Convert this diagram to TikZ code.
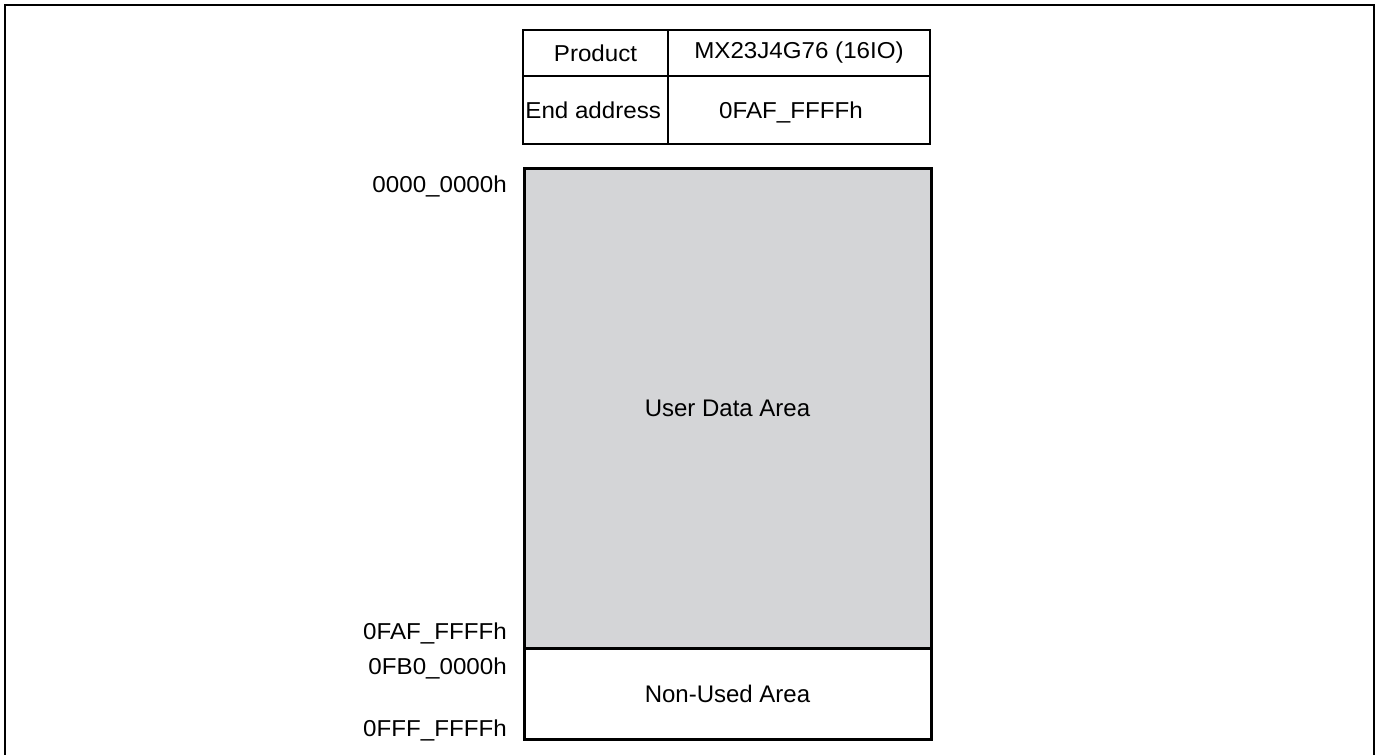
\documentclass[tikz,border=0pt]{standalone}
\usepackage{fontspec}
\setmainfont{Liberation Sans}
\definecolor{areagray}{RGB}{212,213,215}
\newcommand{\widetxt}[1]{\scalebox{1.05}[1]{#1}}
\begin{document}
\begin{tikzpicture}[x=1pt,y=-1pt,
  lbl/.style={font=\fontsize{23}{26}\selectfont, inner sep=0pt},
  cell/.style={draw, line width=1.6pt, minimum height=46pt, inner sep=0pt, font=\fontsize{23}{26}\selectfont},
  area/.style={draw, line width=3pt, inner sep=0pt, outer sep=0pt, font=\fontsize{24}{28}\selectfont}]
\useasboundingbox (0,0) rectangle (1382,755);
% outer frame
\coordinate (fbl) at (5,756);
\coordinate (ftl) at (5,5);
\coordinate (ftr) at (1374,5);
\coordinate (fbr) at (1374,756);
\draw[line width=2pt] (fbl) -- (ftl) -- (ftr) -- (fbr);
% table
\node[cell, minimum width=145pt, minimum height=46pt] (c11) at (595.5,53) {\widetxt{Product}};
\node[cell, minimum width=262pt, minimum height=46pt] (c12) at (799,53) {\widetxt{MX23J4G76 (16IO)}};
\node[cell, minimum width=145pt, minimum height=68pt] (c21) at (595.5,110) {};
\node[cell, minimum width=262pt, minimum height=68pt] (c22) at (799,110) {};
\node[lbl, anchor=west] (ea) at ([xshift=3pt]c21.west) {\widetxt{End address}};
\node[lbl] (eav) at (791,112) {\widetxt{0FAF\_FFFFh}};
% memory map
\node[area, fill=areagray, minimum width=407pt, minimum height=480pt] (user) at (727.5,408) {User Data Area};
\node[area, minimum width=407pt, minimum height=91pt, anchor=north] (nonused) at (user.south) {};
\node[font=\fontsize{24}{28}\selectfont] (nulbl) at (727.5,694) {Non-Used Area};
% addresses
\node[lbl, anchor=east] (a0) at (507,186) {\widetxt{0000\_0000h}};
\node[lbl, anchor=east] (a1) at (507,633) {\widetxt{0FAF\_FFFFh}};
\node[lbl, anchor=east] (a2) at (507,668) {\widetxt{0FB0\_0000h}};
\node[lbl, anchor=east] (a3) at (507,730) {\widetxt{0FFF\_FFFFh}};
\end{tikzpicture}
\end{document}
